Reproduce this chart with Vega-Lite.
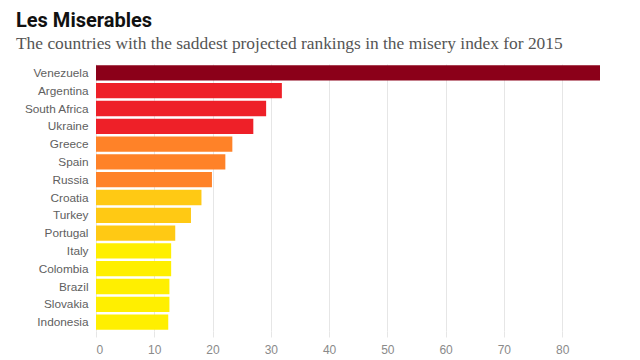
{
  "$schema": "https://vega.github.io/schema/vega-lite/v6.json",
  "autosize": {"type": "none"},
  "width": 504,
  "height": 267,
  "padding": {"left": 96, "top": 64, "right": 40, "bottom": 29},
  "background": "white",
  "title": {
    "text": "Les Miserables",
    "subtitle": "The countries with the saddest projected rankings in the misery index for 2015",
    "anchor": "start",
    "frame": "group",
    "dx": -80,
    "offset": 12,
    "font": "Roboto",
    "fontSize": 20,
    "fontWeight": "bold",
    "color": "#111111",
    "subtitleFont": "Liberation Serif",
    "subtitleFontSize": 17.4,
    "subtitleColor": "#555555",
    "subtitlePadding": 4
  },
  "data": {
    "values": [
      {"country": "Venezuela", "value": 86.5, "tier": "A"},
      {"country": "Argentina", "value": 31.9, "tier": "B"},
      {"country": "South Africa", "value": 29.2, "tier": "B"},
      {"country": "Ukraine", "value": 27.0, "tier": "B"},
      {"country": "Greece", "value": 23.4, "tier": "C"},
      {"country": "Spain", "value": 22.2, "tier": "C"},
      {"country": "Russia", "value": 19.9, "tier": "C"},
      {"country": "Croatia", "value": 18.1, "tier": "D"},
      {"country": "Turkey", "value": 16.3, "tier": "D"},
      {"country": "Portugal", "value": 13.6, "tier": "D"},
      {"country": "Italy", "value": 12.9, "tier": "E"},
      {"country": "Colombia", "value": 12.9, "tier": "E"},
      {"country": "Brazil", "value": 12.6, "tier": "E"},
      {"country": "Slovakia", "value": 12.6, "tier": "E"},
      {"country": "Indonesia", "value": 12.4, "tier": "E"}
    ]
  },
  "mark": {"type": "bar"},
  "encoding": {
    "y": {
      "field": "country",
      "type": "nominal",
      "sort": null,
      "scale": {"paddingInner": 0.14, "paddingOuter": 0.07},
      "axis": {
        "title": null,
        "domain": false,
        "ticks": false,
        "labelPadding": 8,
        "labelFont": "Liberation Sans",
        "labelFontSize": 11.8,
        "labelColor": "#606060"
      }
    },
    "x": {
      "field": "value",
      "type": "quantitative",
      "scale": {"domain": [0, 86.5], "nice": false},
      "axis": {
        "title": null,
        "values": [0, 10, 20, 30, 40, 50, 60, 70, 80],
        "domain": false,
        "grid": true,
        "gridColor": "#e6e6e6",
        "tickColor": "#e6e6e6",
        "tickSize": 6,
        "labelPadding": 7,
        "labelFont": "Liberation Sans",
        "labelFontSize": 12,
        "labelColor": "#8a8a8a"
      }
    },
    "color": {
      "field": "tier",
      "type": "nominal",
      "scale": {
        "domain": ["A", "B", "C", "D", "E"],
        "range": ["#8b0019", "#ee2028", "#ff8228", "#ffc914", "#ffef00"]
      },
      "legend": null
    }
  },
  "config": {"view": {"stroke": null}}
}
